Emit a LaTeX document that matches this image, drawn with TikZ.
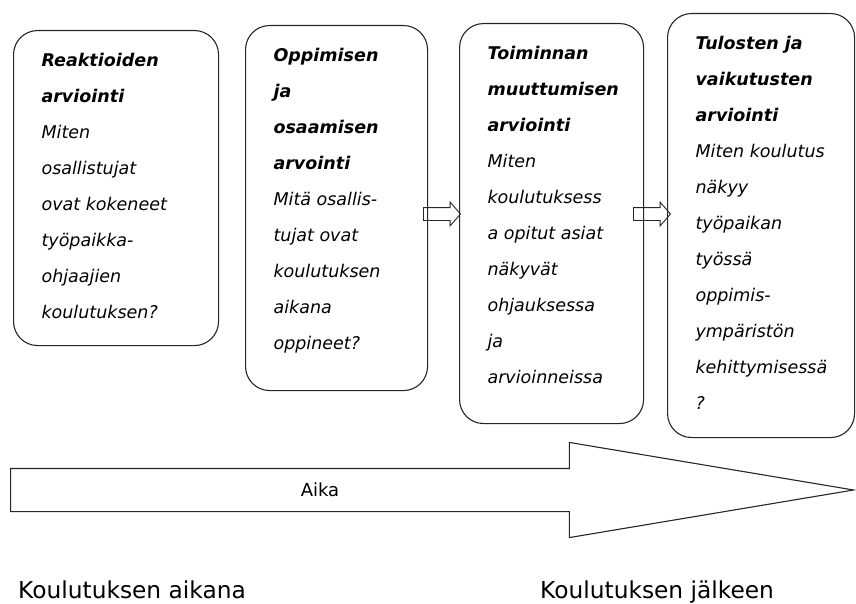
\documentclass[tikz,border=0pt]{standalone}
\usepackage{fontspec}
\setmainfont{DejaVu Sans}
\usetikzlibrary{shapes.arrows}

% text block of a stage box: height, width, lines
\newcommand{\stagetext}[3]{%
  \begin{minipage}[t][#1][t]{#2}\raggedright\hyphenpenalty=10000
    \fontsize{17.5}{36}\selectfont\itshape\rule{0pt}{36pt}#3\end{minipage}}

\begin{document}
\begin{tikzpicture}[
      x=1pt, y=-1pt,
      stage/.style={draw=black!85, line width=1.1pt, rounded corners=24pt,
          inner xsep=28pt, inner ysep=0pt, anchor=north west},
      steparrow/.style={draw=black!85, line width=0.9pt, single arrow, anchor=tail,
          inner xsep=0pt, inner ysep=6pt, minimum height=37pt,
          single arrow head extend=5.5pt, single arrow tip angle=98},
      timearrow/.style={draw=black!85, line width=1.1pt, single arrow, anchor=tail,
          inner xsep=0pt, inner ysep=21pt, minimum height=843pt,
          single arrow head extend=26pt, single arrow tip angle=19},
      phase/.style={font=\fontsize{23.3}{27}\selectfont, anchor=base west, inner sep=0pt},
    ]
    \useasboundingbox (0,0) rectangle (856,604);

    \node[stage] (reaktio) at (13,30) {\stagetext{315pt}{149pt}{%
        \textbf{Reaktioiden}\\ \textbf{arviointi}\\ Miten\\ osallistujat\\
        ovat kokeneet\\ työpaikka-\\ ohjaajien\\ koulutuksen?}};
    \node[stage] (oppiminen) at (245,25) {\stagetext{365pt}{126pt}{%
        \textbf{Oppimisen}\\ \textbf{ja}\\ \textbf{osaamisen}\\ \textbf{arvointi}\\
        Mitä osallis-\\ tujat ovat\\ koulutuksen\\ aikana\\ oppineet?}};
    \node[stage] (toiminta) at (459,23) {\stagetext{400pt}{128pt}{%
        \textbf{Toiminnan}\\ \textbf{muuttumisen}\\ \textbf{arviointi}\\ Miten\\
        koulutuksess\\ a opitut asiat\\ näkyvät\\ ohjauksessa\\ ja\\ arvioinneissa}};
    \node[stage] (tulokset) at (667,13) {\stagetext{424pt}{131pt}{%
        \textbf{Tulosten ja}\\ \textbf{vaikutusten}\\ \textbf{arviointi}\\
        Miten koulutus\\ näkyy\\ työpaikan\\ työssä\\ oppimis-\\ ympäristön\\
        kehittymisessä\\ ?}};

    \node[steparrow] (s23) at (423,214) {};
    \node[steparrow] (s34) at (633,214) {};

    \node[timearrow] (aika) at (10,490) {};
    \node[font=\fontsize{18}{20}\selectfont] (aikatxt) at (320,490) {Aika};

    \node[phase] (aikana) at (18,598) {Koulutuksen aikana};
    \node[phase] (jalkeen) at (540,598) {Koulutuksen jälkeen};

  \end{tikzpicture}
\end{document}
